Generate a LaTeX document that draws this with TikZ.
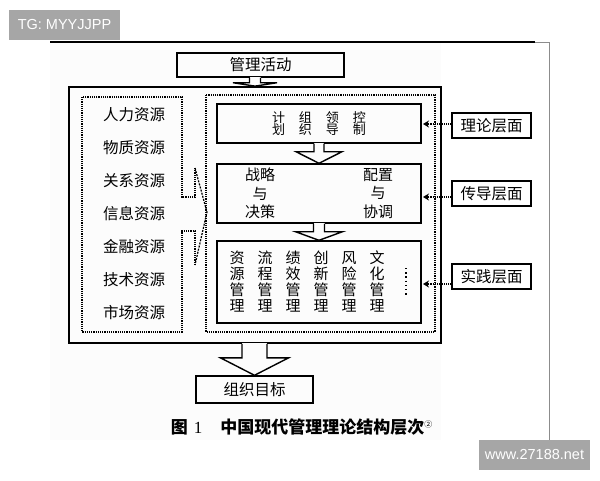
\documentclass[tikz,border=0pt]{standalone}
\usepackage{fontspec}
\setmainfont{Noto Sans CJK SC}
\newfontfamily\wmfont{Liberation Sans}
\newfontfamily\numfont{Liberation Serif}
\usetikzlibrary{calc,arrows.meta}

\begin{document}
\begin{tikzpicture}
    [x=1pt, y=-1pt,
     box/.style={draw, line width=1.4pt, inner sep=0pt},
     frame/.style={draw, line width=1.7pt},
     dotbox/.style={line width=1.2pt, densely dotted},
     hollow/.style={line width=1.4pt},
     linkarrow/.style={line width=1.2pt, densely dotted, -{Stealth[length=6pt,width=7pt]}},
     big/.style={font=\fontsize{15.5}{18}\selectfont},
     mid/.style={font=\fontsize{15}{16}\selectfont},
     wmark/.style={fill=black!35, text=white, font=\wmfont\fontsize{14.5}{16}\selectfont,
                  minimum width=111pt, minimum height=30pt, inner sep=0pt}]
    \useasboundingbox (0,0) rectangle (600,480);
    \fill[black!1] (50,43) rectangle (441,440);
    \draw[black!45, line width=0.6pt] (50,42) -- (549,42) -- (549,440);
    \draw[line width=2.4pt] (50,42) -- (535,42);
    \node[wmark] (tg) at (64.5,25) {TG: MYYJJPP};
    \node[wmark] (web) at (534.5,455) {www.27188.net};

    \node[box, big, minimum width=167pt, minimum height=24pt] (act) at (260.5,65) {管理活动};
    \node[frame, minimum width=372pt, minimum height=256pt] (outer) at (255,215) {};
    \node[box, big, minimum width=117pt, minimum height=27pt] (goal) at (254.5,389.5) {组织目标};

    \draw[dotbox] (195,168) -- (195,197) -- (182,197) -- (182,97) -- (82,97) -- (82,332)
                  -- (182,332) -- (182,231) -- (195,231) -- (195,265);
    \draw[dotbox, dash pattern=on 2pt off 1.2pt] (195,168) -- (207,212) -- (195,265);
    \foreach \r [count=\i from 0] in {人力资源,物质资源,关系资源,信息资源,金融资源,技术资源,市场资源}
        \node[big] (r\i) at (134,{115+33*\i}) {\r};

    \draw[dotbox] (206,95) rectangle (435,332);
    \node[box, minimum width=204pt, minimum height=39pt, align=center,
          font=\fontsize{13}{12.5}\selectfont] (plan) at (319,123.5)
          {计\hspace{14pt}组\hspace{14pt}领\hspace{14pt}控\\划\hspace{14pt}织\hspace{14pt}导\hspace{14pt}制};
    \node[box, minimum width=204pt, minimum height=59pt] (strat) at (319,193.5) {};
    \node[align=center, font=\fontsize{15}{18.5}\selectfont] (sl) at (260,193.5) {战略\\与\\决策};
    \node[align=center, font=\fontsize{15}{18.5}\selectfont] (sr) at (378,193.5) {配置\\与\\协调};
    \node[box, minimum width=204pt, minimum height=82pt] (prac) at (319,282) {};
    \foreach \a/\b [count=\i from 0] in {资/源,流/程,绩/效,创/新,风/险,文/化}
        \node[mid, align=center] (m\i) at ({237+28*\i},281.5) {\a\\\b\\管\\理};
    \draw[line width=1.6pt, dash pattern=on 1.4pt off 2.8pt] (406,268) -- (406,297);

    \foreach \a/\b/\s/\h/\d in {act/outer/5.5/22/5, plan/strat/5/23/8, strat/prac/5.5/23.5/8, outer/goal/12.5/34/14}{
        \coordinate (t) at (\b.north |- \a.south);
        \fill[black!1] ($(t)+(-\s,-1.2)$) rectangle ($(t)+(\s,\d)$);
        \draw[hollow] ($(t)+(-\s,0)$) -- ++(0,\d) -- ++({\s-\h},0) -- (\b.north)
                      -- ($(t)+(\h,\d)$) -- ++({\s-\h},0) -- ++(0,-\d);
    }

    \foreach \n/\t/\y in {lt/理论层面/125.5, lc/传导层面/193.5, lp/实践层面/276.5}
        \node[box, big, minimum width=79pt, minimum height=25pt] (\n) at (491.5,\y) {\t};
    \coordinate (tips) at (423,0);
    \foreach \n/\dy in {lt/1.5, lc/-3.5, lp/-7.5}
        \draw[linkarrow] ([yshift=\dy pt]\n.west) -- ([yshift=\dy pt]\n.west -| tips);

    \node[font=\bfseries\fontsize{17}{18}\selectfont] (cap) at (301.5,427)
        {图\hspace{6pt}{\numfont\mdseries 1}\hspace{18pt}中国现代管理理论结构层次\raisebox{6pt}{\mdseries\fontsize{8}{8}\selectfont ②}};
\end{tikzpicture}
\end{document}
